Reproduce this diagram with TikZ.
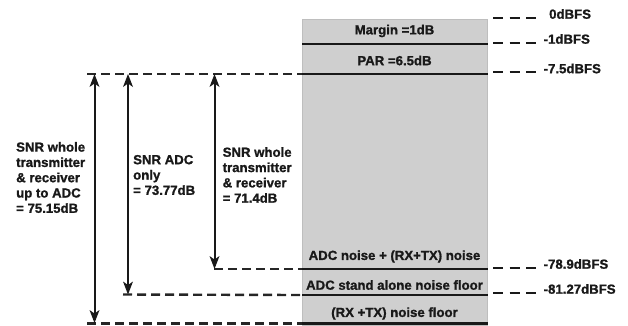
\documentclass[tikz,border=0pt]{standalone}
\usepackage{fontspec}
\setmainfont{Liberation Sans Bold}[FakeBold=1.2]
\begin{document}
\begin{tikzpicture}[x=1pt,y=-1pt,
  every node/.style={font=\fontsize{13.2}{15.3}\selectfont, inner sep=0pt, text=black!90},
  lvl/.style={line width=2.6pt, black!90},
  ldash/.style={line width=2.4pt, black!85, dash pattern=on 9pt off 5pt},
  rdash/.style={line width=2.4pt, black!90, dash pattern=on 10pt off 6.5pt},
  snr/.style={line width=2pt, black!90},
  headup/.style={fill=black!90},
  lab/.style={anchor=west, align=left},
  dbfs/.style={anchor=west}]
\useasboundingbox (0,0) rectangle (628,325);
% gray column
\node[fill={rgb,255:red,207;green,207;blue,207}, draw={rgb,255:red,190;green,190;blue,190}, line width=0.6pt,
      minimum width=185pt, minimum height=306pt, anchor=north west] (col) at (302,19) {};
% level coordinates
\coordinate (m1) at (302,44);  \coordinate (m1r) at (488,44);
\coordinate (p1) at (302,74);  \coordinate (p1r) at (488,74);
\coordinate (a1) at (302,269); \coordinate (a1r) at (488,269);
\coordinate (s1) at (302,295); \coordinate (s1r) at (488,295);
\coordinate (b1) at (302,323.5); \coordinate (b1r) at (488,323.5);
\draw[lvl] (m1) -- (m1r);
\draw[lvl] (p1) -- (p1r);
\draw[lvl] (a1) -- (a1r);
\draw[lvl] (s1) -- (s1r);
\draw[lvl, line width=3.2pt] (b1) -- (b1r);
% box texts
\node (margin) at (394.5,31) {Margin =1dB};
\node (par) at (394.5,60.5) {PAR =6.5dB};
\node (adcrx) at (394.5,256.5) {ADC noise + (RX+TX) noise};
\node (adcsa) at (394.5,285) {ADC stand alone noise floor};
\node (rxtx) at (394.5,313.5) {(RX +TX) noise floor};
% right dashes and labels
\coordinate (r0a) at (493,18);  \coordinate (r0b) at (542,18);
\coordinate (r1a) at (493,43);  \coordinate (r1b) at (542,43);
\coordinate (r2a) at (493,72);  \coordinate (r2b) at (542,72);
\coordinate (r3a) at (493,268); \coordinate (r3b) at (542,268);
\coordinate (r4a) at (493,293); \coordinate (r4b) at (542,293);
\draw[rdash] (r0a) -- (r0b);
\draw[rdash] (r1a) -- (r1b);
\draw[rdash] (r2a) -- (r2b);
\draw[rdash] (r3a) -- (r3b);
\draw[rdash] (r4a) -- (r4b);
\node[dbfs] (d0) at (549,14) {0dBFS};
\node[dbfs] (d1) at (543.5,39) {-1dBFS};
\node[dbfs] (d2) at (543.5,68.5) {-7.5dBFS};
\node[dbfs] (d3) at (543.5,264) {-78.9dBFS};
\node[dbfs] (d4) at (543.5,289) {-81.27dBFS};
% left dashed lines
\coordinate (lt) at (87,74);
\coordinate (la) at (214,269);
\coordinate (ls) at (123,294.5);
\coordinate (lb) at (87,323.5);
\draw[ldash] (lt) -- (p1);
\draw[ldash] (la) -- (a1);
\draw[ldash] (ls) -- (s1);
\draw[ldash] (lb) -- (b1);
% arrows (shaft + explicit heads)
\coordinate (x1t) at (94.5,74);  \coordinate (x1b) at (94.5,323);
\coordinate (x2t) at (128,74);   \coordinate (x2b) at (128,294.5);
\coordinate (x3t) at (214.5,74); \coordinate (x3b) at (214.5,269);
\foreach \t/\b in {x1t/x1b, x2t/x2b, x3t/x3b}{
  \draw[snr] ([yshift=-8pt]\t) -- ([yshift=8pt]\b);
  \fill[headup] (\t) -- ++(-5,13) -- ++(5,-3.5) -- ++(5,3.5) -- cycle;
  \fill[headup] (\b) -- ++(-5,-13) -- ++(5,3.5) -- ++(5,-3.5) -- cycle;
}
% SNR labels
\node[lab] (snr1) at (16,177.5) {SNR whole\\transmitter\\\& receiver\\up to ADC\\= 75.15dB};
\node[lab] (snr2) at (133,175) {SNR ADC\\only\\= 73.77dB};
\node[lab] (snr3) at (222.5,175) {SNR whole\\transmitter\\\& receiver\\= 71.4dB};
\end{tikzpicture}
\end{document}
